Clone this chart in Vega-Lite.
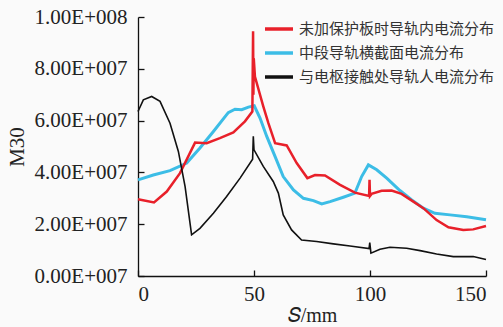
{
  "$schema": "https://vega.github.io/schema/vega-lite/v6.json",
  "width": 348,
  "height": 259,
  "autosize": "none",
  "padding": {"left": 138, "top": 17, "right": 17, "bottom": 51},
  "background": "#fafafa",
  "config": {"view": {"stroke": null}},
  "datasets": {
    "red": [
      {"s": 0, "v": 29600000}, {"s": 6.9, "v": 28400000}, {"s": 12.4, "v": 32600000}, {"s": 18.1, "v": 39700000},
      {"s": 24.6, "v": 51500000}, {"s": 29.6, "v": 51300000}, {"s": 35.3, "v": 53200000}, {"s": 41.1, "v": 55400000},
      {"s": 46.1, "v": 59700000}, {"s": 49.3, "v": 63500000}, {"s": 49.6, "v": 94500000}, {"s": 49.75, "v": 70000000},
      {"s": 49.9, "v": 84000000}, {"s": 50.4, "v": 77000000}, {"s": 54.0, "v": 65500000}, {"s": 56.2, "v": 59000000},
      {"s": 59.1, "v": 51300000}, {"s": 64.1, "v": 50400000}, {"s": 68.4, "v": 43600000}, {"s": 73.0, "v": 37800000},
      {"s": 76.3, "v": 39000000}, {"s": 80.6, "v": 38800000}, {"s": 87.1, "v": 35200000}, {"s": 93.5, "v": 32200000},
      {"s": 99.6, "v": 30900000}, {"s": 99.8, "v": 37100000}, {"s": 100.0, "v": 30900000}, {"s": 100.7, "v": 31700000},
      {"s": 105, "v": 32900000}, {"s": 109.3, "v": 33000000}, {"s": 113.6, "v": 31700000}, {"s": 118.7, "v": 28700000},
      {"s": 123, "v": 26200000}, {"s": 128.7, "v": 21600000}, {"s": 133.8, "v": 18800000}, {"s": 140.2, "v": 17800000},
      {"s": 144.5, "v": 18000000}, {"s": 150, "v": 19300000}
    ],
    "cyan": [
      {"s": 0, "v": 37100000}, {"s": 6.6, "v": 39000000}, {"s": 13.8, "v": 40700000}, {"s": 21, "v": 43600000},
      {"s": 26.7, "v": 49400000}, {"s": 32.5, "v": 55800000}, {"s": 38.9, "v": 63100000}, {"s": 41.8, "v": 64400000},
      {"s": 44.7, "v": 64200000}, {"s": 47.6, "v": 65200000}, {"s": 50.1, "v": 65700000}, {"s": 52.6, "v": 61000000},
      {"s": 55.5, "v": 53900000}, {"s": 59.1, "v": 46100000}, {"s": 62.6, "v": 38400000}, {"s": 67, "v": 33200000},
      {"s": 71.3, "v": 30000000}, {"s": 75.6, "v": 29100000}, {"s": 79.2, "v": 27800000}, {"s": 82.8, "v": 28700000},
      {"s": 88.5, "v": 30400000}, {"s": 93.5, "v": 32000000}, {"s": 96.4, "v": 38400000}, {"s": 99.3, "v": 42900000},
      {"s": 102.9, "v": 41000000}, {"s": 107.2, "v": 37800000}, {"s": 112.9, "v": 33000000}, {"s": 118, "v": 29400000},
      {"s": 123, "v": 26200000}, {"s": 128, "v": 24200000}, {"s": 134.5, "v": 23600000}, {"s": 141.7, "v": 22900000},
      {"s": 150, "v": 21700000}
    ],
    "black": [
      {"s": 0, "v": 63500000}, {"s": 2.3, "v": 68000000}, {"s": 5.9, "v": 69300000}, {"s": 9.5, "v": 67400000},
      {"s": 13.8, "v": 59000000}, {"s": 17.4, "v": 48100000}, {"s": 20.3, "v": 34500000}, {"s": 23.1, "v": 15900000},
      {"s": 26.7, "v": 18400000}, {"s": 32.5, "v": 24200000}, {"s": 38.2, "v": 30700000}, {"s": 44, "v": 37800000},
      {"s": 49.4, "v": 45100000}, {"s": 49.7, "v": 53900000}, {"s": 50.0, "v": 48700000}, {"s": 54, "v": 42300000},
      {"s": 58.3, "v": 36500000}, {"s": 60.5, "v": 32000000}, {"s": 62.6, "v": 23600000}, {"s": 66.2, "v": 17800000},
      {"s": 70.5, "v": 13900000}, {"s": 77, "v": 13300000}, {"s": 84.2, "v": 12400000}, {"s": 91.4, "v": 11600000},
      {"s": 99.6, "v": 10600000}, {"s": 99.9, "v": 12900000}, {"s": 100.4, "v": 8800000}, {"s": 104.3, "v": 10300000},
      {"s": 108.6, "v": 11100000}, {"s": 115.8, "v": 10700000}, {"s": 121.6, "v": 9800000}, {"s": 128.7, "v": 8500000},
      {"s": 135.9, "v": 7500000}, {"s": 144.5, "v": 7500000}, {"s": 150, "v": 6400000}
    ]
  },
  "layer": [
    {
      "data": {"name": "cyan"},
      "transform": [{"calculate": "'中段导轨横截面电流分布'", "as": "series"}],
      "mark": {"type": "line", "strokeWidth": 3, "interpolate": "linear"},
      "encoding": {
        "x": {"field": "s", "type": "quantitative"},
        "y": {"field": "v", "type": "quantitative"},
        "color": {"field": "series", "type": "nominal"}
      }
    },
    {
      "data": {"name": "red"},
      "transform": [{"calculate": "'未加保护板时导轨内电流分布'", "as": "series"}],
      "mark": {"type": "line", "strokeWidth": 2.5},
      "encoding": {
        "x": {"field": "s", "type": "quantitative"},
        "y": {"field": "v", "type": "quantitative"},
        "color": {"field": "series", "type": "nominal"}
      }
    },
    {
      "data": {"name": "black"},
      "transform": [{"calculate": "'与电枢接触处导轨人电流分布'", "as": "series"}],
      "mark": {"type": "line", "strokeWidth": 1.6},
      "encoding": {
        "x": {
          "field": "s", "type": "quantitative",
          "scale": {"domain": [0, 150], "nice": false},
          "axis": {
            "values": [0, 50, 100, 150], "grid": false, "title": "𝑆/mm",
            "domainColor": "#111", "domainWidth": 1.3, "tickColor": "#111", "tickSize": -6, "tickWidth": 1.3,
            "labelFont": "Liberation Serif", "labelFontSize": 21, "labelColor": "#222", "labelPadding": 13,
            "titleFont": "Liberation Serif", "titleFontSize": 20, "titleFontWeight": "normal", "titleColor": "#222", "titlePadding": 1
          }
        },
        "y": {
          "field": "v", "type": "quantitative",
          "scale": {"domain": [0, 100000000], "nice": false},
          "axis": {
            "values": [0, 20000000, 40000000, 60000000, 80000000, 100000000], "grid": false, "title": "M30",
            "labelExpr": "datum.value >= 100000000 ? format(datum.value/100000000, '.2f') + 'E+008' : format(datum.value/10000000, '.2f') + 'E+007'",
            "domainColor": "#111", "domainWidth": 1.3, "tickColor": "#111", "tickSize": -6, "tickWidth": 1.3,
            "labelFont": "Liberation Serif", "labelFontSize": 21, "labelColor": "#222", "labelPadding": 17,
            "titleFont": "Liberation Serif", "titleFontSize": 21, "titleFontWeight": "normal", "titleColor": "#222", "titlePadding": 7
          }
        },
        "color": {
          "field": "series", "type": "nominal",
          "scale": {
            "domain": ["未加保护板时导轨内电流分布", "中段导轨横截面电流分布", "与电枢接触处导轨人电流分布"],
            "range": ["#e8202a", "#3cbde6", "#111111"]
          },
          "legend": {
            "title": null, "orient": "none", "legendX": 132, "legendY": 3,
            "symbolType": "M-2,0H2", "symbolStrokeWidth": 3.5, "symbolSize": 196,
            "labelFont": "Noto Sans CJK SC", "labelFontSize": 15, "labelColor": "#333", "labelLimit": 300,
            "rowPadding": 7, "labelOffset": 11
          }
        }
      }
    }
  ]
}
